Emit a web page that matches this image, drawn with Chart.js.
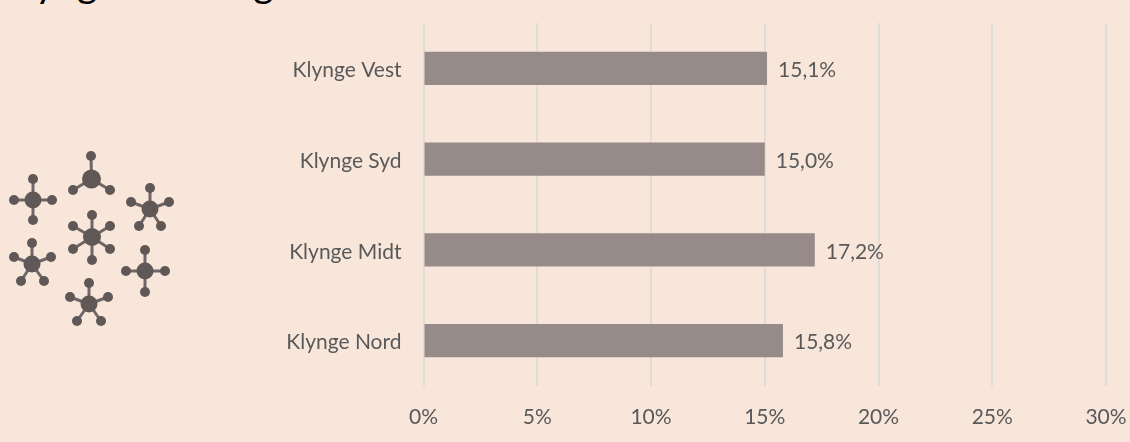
<!DOCTYPE html>
<html><head><meta charset="utf-8">
<style>
html,body{margin:0;padding:0;background:#f8e6db;overflow:hidden}
#wrap{position:relative;width:1130px;height:442px;overflow:hidden}
#title{position:absolute;left:0;top:-41px;font:39px Lato,sans-serif;color:#000;white-space:nowrap}
canvas{position:absolute;left:0;top:0}
svg{position:absolute;left:0;top:0}
</style></head><body>
<div id="wrap">
<div id="title">Klyngeinddeling</div>
<canvas id="c" width="1130" height="442"></canvas>
<svg id="icon" width="200" height="442"></svg>
</div>
<script src="https://cdn.jsdelivr.net/npm/chart.js@4"></script>
<script>
const categories = ["Klynge Vest","Klynge Syd","Klynge Midt","Klynge Nord"];
const values = [15.1,15.0,17.2,15.8];
const axisMin = 0, axisMax = 30, axisStep = 5;

const glyphs = [
 [33,200,8.5,[[33,179],[14,200],[52,200],[33,220]]],
 [91.5,179,9.5,[[91,156],[73,190],[110,190]]],
 [150,209,8.5,[[150,188],[131,202],[169,202],[139,226],[161,226]]],
 [92,237,9,[[92,215],[73,226],[110,226],[73,249],[110,249],[92,260]]],
 [32,264,8.5,[[32,243],[14,257],[51,257],[21,281],[44,281]]],
 [145,271,8.5,[[145,250],[126,271],[165,271],[145,292]]],
 [89,304,8.5,[[89,283],[70,297],[108,297],[77,321],[101,321]]]
];
let s='';
for(const [x,y,r,ns] of glyphs){
  for(const [a,b] of ns){
    s+=`<line x1="${x}" y1="${y}" x2="${a}" y2="${b}" stroke="#6e6765" stroke-width="3"/><circle cx="${a}" cy="${b}" r="5" fill="#5f5856"/>`;
  }
  s+=`<circle cx="${x}" cy="${y}" r="${r}" fill="#5f5856"/>`;
}
document.getElementById('icon').innerHTML=s;

const valueLabels={id:'valueLabels',afterDatasetsDraw(ch){
  const {ctx}=ch;const m=ch.getDatasetMeta(0);
  ctx.save();ctx.font='21px Lato, sans-serif';ctx.fillStyle='#595959';ctx.textAlign='left';ctx.textBaseline='middle';
  m.data.forEach((b,i)=>ctx.fillText(values[i].toFixed(1).replace('.',',')+'%',b.x+11,b.y+2));
  ctx.restore();
}};

new Chart(document.getElementById('c'),{
  type:'bar',
  data:{labels:categories,datasets:[{data:values,backgroundColor:'#968b88',borderWidth:0,barPercentage:0.364,categoryPercentage:1}]},
  plugins:[valueLabels],
  options:{
    indexAxis:'y',responsive:false,animation:false,
    layout:{padding:{left:0,right:24,top:23,bottom:0}},
    plugins:{legend:{display:false},title:{display:false},tooltip:{enabled:false}},
    scales:{
      x:{min:axisMin,max:axisMax,
        ticks:{stepSize:axisStep,color:'#595959',font:{family:'Lato, sans-serif',size:21},padding:19,maxRotation:0,callback:v=>v+'%'},
        grid:{color:'#e0dcd9',lineWidth:2,drawTicks:false},border:{display:false},
        afterFit(a){a.height=56;a.paddingLeft=0;a.paddingRight=0;}},
      y:{
        ticks:{color:'#595959',font:{family:'Lato, sans-serif',size:21},padding:14,labelOffset:2},
        grid:{display:false},border:{display:false},
        afterFit(a){a.width=423.5;a.paddingTop=0;a.paddingBottom=0;}}
    }
  }
});
</script>
</body></html>
